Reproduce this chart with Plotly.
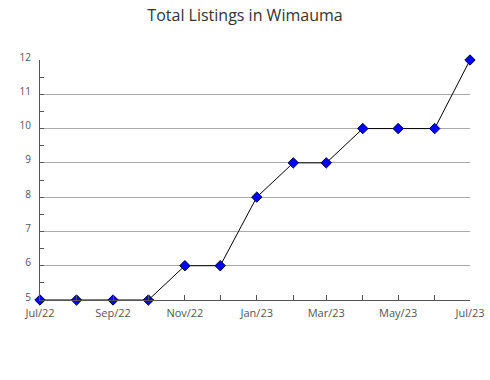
import plotly.graph_objects as go

months = ["2022-07-01","2022-08-01","2022-09-01","2022-10-01","2022-11-01","2022-12-01",
          "2023-01-01","2023-02-01","2023-03-01","2023-04-01","2023-05-01","2023-06-01","2023-07-01"]
listings = [5,5,5,5,6,6,8,9,9,10,10,10,12]
y_ticks = [5,6,7,8,9,10,11,12]

fig = go.Figure()
fig.add_trace(go.Scatter(
    x=months, y=listings, mode="lines+markers",
    line=dict(color="black", width=1),
    marker=dict(symbol="diamond", size=8, color="#0000ff", line=dict(color="#000033", width=1)),
    cliponaxis=False,
))
fig.update_layout(
    width=490, height=380,
    margin=dict(l=40, r=20, t=60, b=80, autoexpand=False),
    paper_bgcolor="white", plot_bgcolor="white",
    showlegend=False,
    title=dict(text="Total Listings in Wimauma", x=0.5, xanchor="center", y=0.96, yanchor="middle",
               font=dict(family="Open Sans", size=16, color="#333")),
    font=dict(family="Open Sans", size=11, color="#555"),
)
fig.update_xaxes(
    type="date", range=["2022-07-01","2023-07-01"], automargin=False,
    tickformat="%b/%y", dtick="M2", tick0="2022-07-01",
    ticks="inside", ticklen=5, tickcolor="#555", ticklabelstandoff=3,
    minor=dict(dtick="M1", ticks="inside", ticklen=5, tickcolor="#555"),
    showline=True, linecolor="#555", linewidth=1,
    showgrid=False, zeroline=False,
    tickfont=dict(size=11, color="#555"),
)
fig.update_yaxes(
    range=[5,12], tickvals=y_ticks, automargin=False,
    ticks="inside", ticklen=4, tickcolor="#555",
    ticklabelstandoff=6, ticklabelshift=-3,
    minor=dict(dtick=0.5, ticks="inside", ticklen=4, tickcolor="#555", showgrid=False),
    showline=True, linecolor="#555", linewidth=1,
    showgrid=True, gridcolor="#aaa", gridwidth=1, zeroline=False,
    tickfont=dict(size=10, color="#555"),
)
fig.write_html("out.html")
